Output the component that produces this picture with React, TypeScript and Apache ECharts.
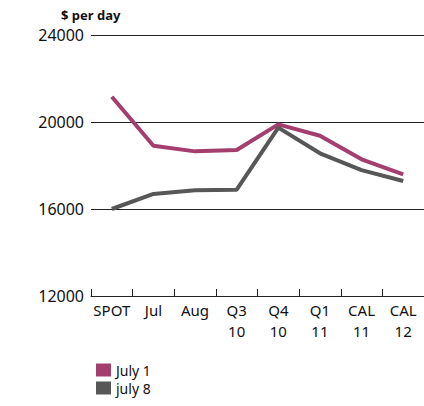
import React, { useEffect, useRef } from "react";
import * as echarts from "echarts";

const categories = ["SPOT", "Jul", "Aug", "Q3\n10", "Q4\n10", "Q1\n11", "CAL\n11", "CAL\n12"];
const july1 = [21160, 18910, 18650, 18710, 19890, 19370, 18285, 17595];
const july8 = [16000, 16690, 16860, 16890, 19740, 18560, 17790, 17290];
const seriesNames = ["July 1", "july 8"];
const colors = ["#a33e6e", "#575757"];
const unitLabel = "$ per day";

export default function App() {
  const ref = useRef<HTMLDivElement>(null);
  useEffect(() => {
    if (!ref.current) return;
    const chart = echarts.init(ref.current, null, { renderer: "svg" });
    const font = "Noto Sans";
    chart.setOption({
      animation: false,
      textStyle: { fontFamily: font },
      title: {
        text: unitLabel,
        left: 56,
        top: 3,
        textStyle: { fontSize: 13, fontWeight: "bold", color: "#111", fontFamily: font },
      },
      legend: {
        orient: "vertical",
        left: 91,
        top: 358,
        itemWidth: 15,
        itemHeight: 13,
        itemGap: 4,
        icon: "rect",
        textStyle: { fontSize: 14, color: "#111", fontFamily: font },
        data: seriesNames,
      },
      grid: { left: 91, right: 0, top: 35, bottom: 110, containLabel: false },
      xAxis: {
        type: "category",
        data: categories,
        boundaryGap: true,
        axisLine: { lineStyle: { color: "#222", width: 1 } },
        axisTick: { show: true, inside: true, length: 7, interval: 0, lineStyle: { color: "#222", width: 1 } },
        axisLabel: {
          interval: 0,
          margin: 3,
          fontSize: 15,
          lineHeight: 21,
          color: "#111",
          fontFamily: font,
          verticalAlign: "top",
        },
      },
      yAxis: {
        type: "value",
        min: 12000,
        max: 24000,
        interval: 4000,
        axisLine: { show: false },
        axisTick: { show: false },
        splitLine: { lineStyle: { color: "#222", width: 1 } },
        axisLabel: {
          margin: 7,
          fontSize: 16,
          color: "#111",
          fontFamily: font,
          formatter: (v: number) => String(v),
        },
      },
      series: [
        {
          name: seriesNames[0],
          type: "line",
          data: july1,
          symbol: "none",
          lineStyle: { width: 4, color: colors[0] },
          itemStyle: { color: colors[0] },
        },
        {
          name: seriesNames[1],
          type: "line",
          data: july8,
          symbol: "none",
          lineStyle: { width: 4, color: colors[1] },
          itemStyle: { color: colors[1] },
        },
      ],
    });
    return () => chart.dispose();
  }, []);
  return <div ref={ref} style={{ width: 424, height: 406, position: "absolute", left: 0, top: 0 }} />;
}
